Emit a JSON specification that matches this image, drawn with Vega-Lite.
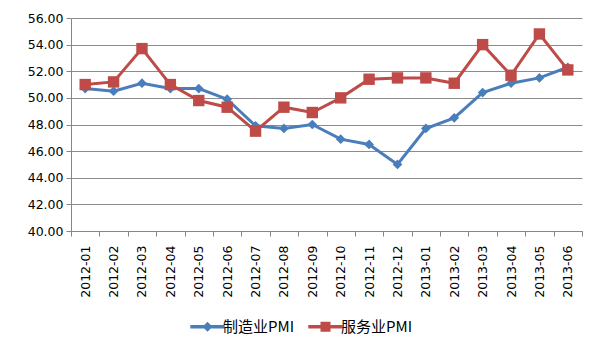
{
  "$schema": "https://vega.github.io/schema/vega-lite/v6.json",
  "width": 511,
  "height": 213,
  "autosize": {"type": "none"},
  "padding": {"left": 71, "top": 18, "right": 18, "bottom": 120},
  "background": "white",
  "config": {
    "view": {"stroke": null},
    "font": "DejaVu Sans",
    "axis": {"labelFont": "DejaVu Sans", "labelFontSize": 12.5, "labelColor": "#000000", "domainColor": "#868686", "tickColor": "#868686", "gridColor": "#8c8c8c", "tickSize": 5, "title": null}
  },
  "data": {
    "values": [
      {"month": "2012-01", "series": "制造业PMI", "value": 50.7},
      {"month": "2012-02", "series": "制造业PMI", "value": 50.5},
      {"month": "2012-03", "series": "制造业PMI", "value": 51.1},
      {"month": "2012-04", "series": "制造业PMI", "value": 50.7},
      {"month": "2012-05", "series": "制造业PMI", "value": 50.7},
      {"month": "2012-06", "series": "制造业PMI", "value": 49.9},
      {"month": "2012-07", "series": "制造业PMI", "value": 47.9},
      {"month": "2012-08", "series": "制造业PMI", "value": 47.7},
      {"month": "2012-09", "series": "制造业PMI", "value": 48.0},
      {"month": "2012-10", "series": "制造业PMI", "value": 46.9},
      {"month": "2012-11", "series": "制造业PMI", "value": 46.5},
      {"month": "2012-12", "series": "制造业PMI", "value": 45.0},
      {"month": "2013-01", "series": "制造业PMI", "value": 47.7},
      {"month": "2013-02", "series": "制造业PMI", "value": 48.5},
      {"month": "2013-03", "series": "制造业PMI", "value": 50.4},
      {"month": "2013-04", "series": "制造业PMI", "value": 51.1},
      {"month": "2013-05", "series": "制造业PMI", "value": 51.5},
      {"month": "2013-06", "series": "制造业PMI", "value": 52.3},
      {"month": "2012-01", "series": "服务业PMI", "value": 51.0},
      {"month": "2012-02", "series": "服务业PMI", "value": 51.2},
      {"month": "2012-03", "series": "服务业PMI", "value": 53.7},
      {"month": "2012-04", "series": "服务业PMI", "value": 51.0},
      {"month": "2012-05", "series": "服务业PMI", "value": 49.8},
      {"month": "2012-06", "series": "服务业PMI", "value": 49.3},
      {"month": "2012-07", "series": "服务业PMI", "value": 47.5},
      {"month": "2012-08", "series": "服务业PMI", "value": 49.3},
      {"month": "2012-09", "series": "服务业PMI", "value": 48.9},
      {"month": "2012-10", "series": "服务业PMI", "value": 50.0},
      {"month": "2012-11", "series": "服务业PMI", "value": 51.4},
      {"month": "2012-12", "series": "服务业PMI", "value": 51.5},
      {"month": "2013-01", "series": "服务业PMI", "value": 51.5},
      {"month": "2013-02", "series": "服务业PMI", "value": 51.1},
      {"month": "2013-03", "series": "服务业PMI", "value": 54.0},
      {"month": "2013-04", "series": "服务业PMI", "value": 51.7},
      {"month": "2013-05", "series": "服务业PMI", "value": 54.8},
      {"month": "2013-06", "series": "服务业PMI", "value": 52.1}
    ]
  },
  "encoding": {
    "x": {
      "field": "month", "type": "ordinal",
      "scale": {"type": "band", "paddingInner": 0, "paddingOuter": 0},
      "axis": {"labelAngle": -90, "labelAlign": "right", "labelBaseline": "middle", "labelPadding": 9, "tickBand": "extent", "grid": false}
    },
    "y": {
      "field": "value", "type": "quantitative",
      "scale": {"domain": [40, 56], "nice": false, "zero": false},
      "axis": {"values": [40, 42, 44, 46, 48, 50, 52, 54, 56], "format": ".2f", "grid": true, "labelPadding": 3}
    }
  },
  "layer": [
    {
      "transform": [{"filter": "datum.series === '制造业PMI'"}],
      "mark": {"type": "line", "color": "#4A7EBB", "strokeWidth": 3}
    },
    {
      "transform": [{"filter": "datum.series === '制造业PMI'"}],
      "mark": {"type": "point", "shape": "diamond", "filled": true, "color": "#4A7EBB", "size": 95, "opacity": 1}
    },
    {
      "transform": [{"filter": "datum.series === '服务业PMI'"}],
      "mark": {"type": "line", "color": "#BE4B48", "strokeWidth": 3}
    },
    {
      "transform": [{"filter": "datum.series === '服务业PMI'"}],
      "mark": {"type": "point", "shape": "square", "filled": true, "color": "#BE4B48", "size": 130, "opacity": 1}
    },
    {
      "transform": [{"filter": "false"}],
      "mark": {"type": "point", "filled": true, "size": 64, "opacity": 1},
      "encoding": {
        "color": {
          "field": "series", "type": "nominal",
          "scale": {"domain": ["制造业PMI", "服务业PMI"], "range": ["#4A7EBB", "#BE4B48"]},
          "legend": {"title": null, "orient": "none", "direction": "horizontal", "legendX": 129, "legendY": 301, "labelFont": "Noto Sans CJK SC", "labelFontSize": 15, "labelColor": "#000000", "labelOffset": 8, "columnPadding": 10, "symbolSize": 64, "symbolOpacity": 1}
        },
        "shape": {
          "field": "series", "type": "nominal",
          "scale": {"domain": ["制造业PMI", "服务业PMI"], "range": ["M-4.3,-0.42H4.3V0.42H-4.3Z M0,-1.25L1.25,0L0,1.25L-1.25,0Z", "M-4.3,-0.42H4.3V0.42H-4.3Z M-1.25,-1.25H1.25V1.25H-1.25Z"]}
        }
      }
    }
  ]
}
